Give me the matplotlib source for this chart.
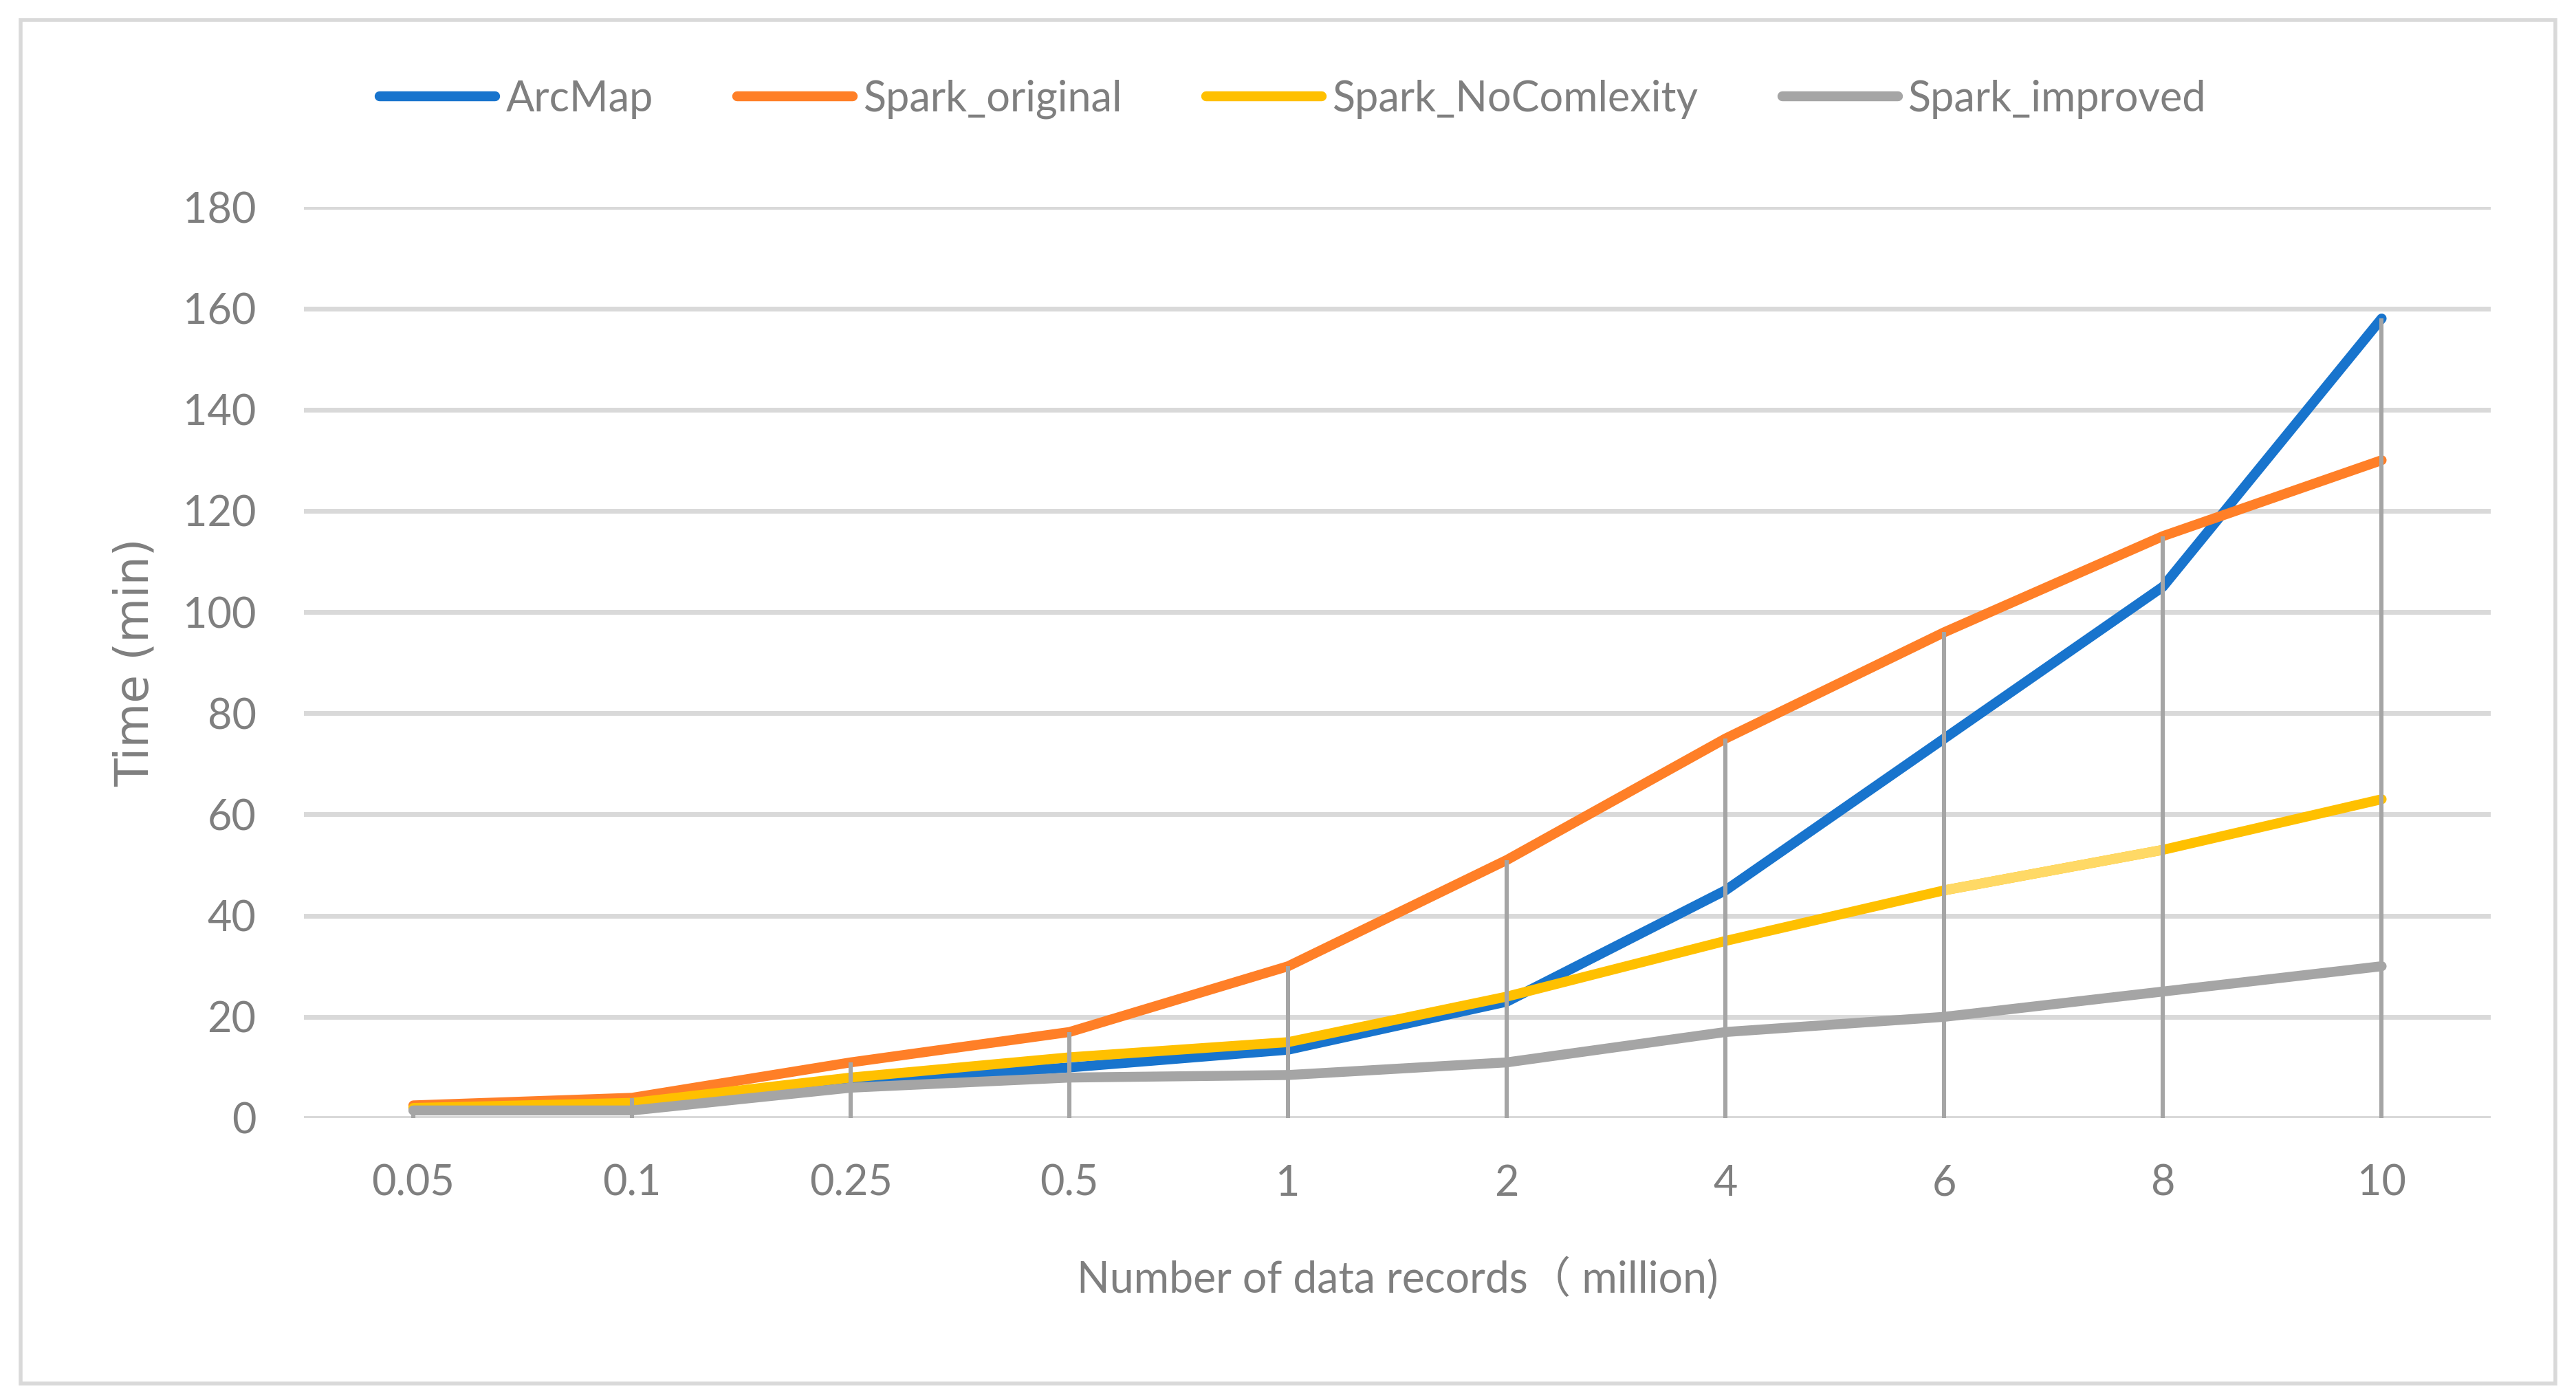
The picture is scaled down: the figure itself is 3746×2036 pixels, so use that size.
import numpy as np
import matplotlib.pyplot as plt
from matplotlib.patches import Rectangle

categories = ['0.05', '0.1', '0.25', '0.5', '1', '2', '4', '6', '8', '10']
arcmap = [2, 3, 7, 10, 13.5, 23, 45, 75, 105, 158]
spark_original = [2.5, 4, 11, 17, 30, 51, 75, 96, 115, 130]
spark_nocomlexity = [2, 3, 8, 12, 15, 24, 35, 45, 53, 63]
spark_improved = [1.5, 1.5, 6, 8, 8.5, 11, 17, 20, 25, 30]

series = [
    ('ArcMap', arcmap, '#1874CD'),
    ('Spark_original', spark_original, '#FF7F27'),
    ('Spark_NoComlexity', spark_nocomlexity, '#FFC000'),
    ('Spark_improved', spark_improved, '#A5A5A5'),
]

txt = '#7F7F7F'
lw = 5.2
fig = plt.figure(figsize=(18.73, 10.18), dpi=200)
ax = fig.add_axes([0.118, 0.2014, 0.849, 0.6506])

x = np.arange(len(categories))
for i in range(0, 181, 20):
    ax.axhline(i, color='#D9D9D9', lw=2.5, zorder=1)

for name, vals, col in series:
    ax.plot(x, vals, color=col, lw=lw, label=name, zorder=3,
            solid_capstyle='round', solid_joinstyle='round')
# lighter segment on the yellow line (6 -> 8)
ax.plot(x[7:9], spark_nocomlexity[7:9], color='#FFD966', lw=lw, zorder=3.5,
        solid_capstyle='butt')

tops = np.max([arcmap, spark_original, spark_nocomlexity, spark_improved], axis=0)
ax.vlines(x, 0, tops, color='#A5A5A5', lw=2.2, zorder=4)

ax.set_xlim(-0.5, 9.5)
ax.set_ylim(0, 180)
ax.set_yticks(range(0, 181, 20))
ax.set_xticks(x)
ax.set_xticklabels(categories)
for s in ax.spines.values():
    s.set_visible(False)
ax.tick_params(length=0, labelsize=22, labelcolor=txt, pad=25)
ax.tick_params(axis='x', pad=24)
for lab in ax.get_xticklabels() + ax.get_yticklabels():
    lab.set_family('Lato')

ax.set_ylabel('Time (min)', fontsize=24, color=txt, family='DejaVu Sans', labelpad=13)
ax.set_xlabel('Number of data records（ million)', fontsize=22.5, color=txt,
              family=['Lato', 'Noto Sans CJK SC'], labelpad=28)

leg = fig.legend(loc='center', bbox_to_anchor=(0.502, 0.929), ncol=4, frameon=False,
                 handlelength=2.75, handletextpad=0.25, columnspacing=2.0,
                 prop={'family': 'Lato', 'size': 22})
for t in leg.get_texts():
    t.set_color(txt)
for h in leg.get_lines():
    h.set_linewidth(lw)
    h.set_solid_capstyle('round')

fig.patches.append(Rectangle((0.008, 0.012), 0.984, 0.974, transform=fig.transFigure,
                             fill=False, edgecolor='#D9D9D9', lw=2))

fig.savefig('out.png', dpi=200)
